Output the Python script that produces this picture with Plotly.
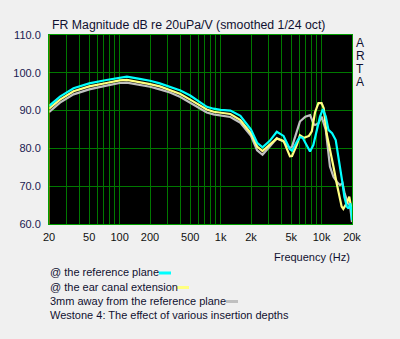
import plotly.graph_objects as go

# ---------------- data ----------------
ref_freq = [20, 25.7, 35, 50, 74, 100, 118, 158, 200, 250, 315, 400, 500, 600, 730, 850, 1000, 1250,
            1570, 2000, 2300, 2600, 3070, 3600, 4200, 4860, 5100, 5700, 6100, 6500, 7200, 7680, 8280,
            8940, 9640, 10300, 11000, 11700, 12700, 13800, 14900, 16100, 16800, 17800, 18500, 19200,
            19800, 20000]
ref_db = [91.2, 93.7, 95.9, 97.2, 98.1, 98.8, 99.0, 98.4, 97.9, 97.2, 96.3, 95.3, 94.0, 92.6, 91.0, 90.5,
          90.2, 90.0, 88.6, 85.0, 81.5, 80.3, 82.0, 84.4, 83.3, 79.8, 79.4, 81.8, 83.0, 82.8, 80.8, 79.2,
          80.9, 84.9, 88.4, 90.4, 88.4, 84.9, 84.0, 82.2, 76.9, 70.8, 67.2, 64.6, 64.1, 65.5, 63.3, 61.0]

ear_freq = [20, 25.7, 35, 50, 74, 100, 118, 158, 200, 250, 315, 400, 500, 600, 730, 850, 1000, 1250,
            1570, 2000, 2300, 2600, 3070, 3600, 4200, 4860, 5100, 5700, 6100, 6700, 7500, 8000, 8600,
            9300, 10000, 10500, 11200, 12100, 13100, 14100, 15200, 15800, 16400, 17700, 18800, 19500,
            20000]
ear_db = [90.5, 92.9, 95.1, 96.4, 97.3, 98.0, 98.1, 97.6, 97.0, 96.4, 95.4, 94.4, 92.9, 91.7, 90.3, 89.7,
          89.4, 89.1, 87.5, 84.0, 80.5, 79.3, 81.0, 82.6, 82.0, 77.9, 78.0, 81.0, 83.5, 82.8, 83.3, 84.5,
          89.5, 92.0, 92.0, 90.6, 84.0, 79.2, 75.2, 70.8, 66.3, 64.6, 64.0, 65.5, 67.2, 65.0, 63.0]

mm3_freq = [20, 25.7, 35, 50, 74, 100, 118, 158, 200, 250, 315, 400, 500, 600, 730, 850, 1000, 1250,
            1570, 2000, 2300, 2600, 3070, 3600, 4200, 4860, 5100, 5500, 6100, 6900, 7700, 8300, 8600,
            9300, 10000, 11000, 11500, 12100, 13100, 14100, 15200, 16100, 16900, 18200, 19100, 19700,
            20000]
mm3_db = [89.6, 92.1, 94.3, 95.6, 96.6, 97.3, 97.4, 96.9, 96.3, 95.6, 94.8, 93.6, 92.1, 90.9, 89.5, 89.0,
          88.7, 88.3, 86.8, 83.3, 79.5, 78.3, 80.5, 82.7, 81.8, 80.0, 80.5, 83.5, 87.1, 88.4, 88.8, 86.6,
          86.2, 86.6, 88.4, 84.9, 80.5, 75.2, 72.5, 71.2, 70.3, 70.8, 68.1, 65.5, 65.0, 61.9, 60.5]

x_tickvals = [20, 50, 100, 200, 500, 1000, 2000, 5000, 10000, 20000]
x_ticktext = ["20", "50", "100", "200", "500", "1k", "2k", "5k", "10k", "20k"]
x_minor = [30, 40, 60, 70, 80, 90, 300, 400, 600, 700, 800, 900, 3000, 4000, 6000, 7000, 8000, 9000]
y_tickvals = [60, 70, 80, 90, 100, 110]
y_ticktext = ["60.0", "70.0", "80.0", "90.0", "100.0", "110.0"]

series_names = ["@ the reference plane", "@ the ear canal extension", "3mm away from the reference plane"]
series_colors = ["#00ffff", "#ffff80", "#c0c0c0"]
note = "Westone 4: The effect of various insertion depths"

# ---------------- layout helpers (pixel positions) ----------------
W, H = 400, 339
L, R, T, B = 49, 352, 35, 224
def px(x):
    return (x - L) / (R - L)
def py(y):
    return (B - y) / (B - T)

FONT = "Arial, Liberation Sans, sans-serif"
TXT = "#101030"

fig = go.Figure()
order = [2, 1, 0]
all_f = [ref_freq, ear_freq, mm3_freq]
all_d = [ref_db, ear_db, mm3_db]
for i in order:
    fig.add_trace(go.Scatter(x=all_f[i], y=all_d[i], mode="lines", name=series_names[i],
                             line=dict(color=series_colors[i], width=2.2), showlegend=False))

fig.update_layout(
    width=W, height=H,
    margin=dict(l=L, r=W - R, t=T, b=H - B),
    paper_bgcolor="#f0f0f0", plot_bgcolor="#000000",
    font=dict(family=FONT, size=11, color=TXT),
    xaxis=dict(type="log", range=[1.30103, 4.30103], tickvals=x_tickvals, ticktext=x_ticktext,
               showgrid=True, gridcolor="#007800", gridwidth=1,
               minor=dict(tickvals=x_minor, showgrid=True, gridcolor="#007800", gridwidth=1),
               showline=True, linecolor="#00a000", linewidth=1, mirror=True,
               ticks="", ticklabelstandoff=3, tickfont=dict(size=11, color="#111111"), zeroline=False),
    yaxis=dict(range=[60, 110], tickvals=y_tickvals, ticktext=y_ticktext,
               showgrid=True, gridcolor="#007800", gridwidth=1,
               showline=True, linecolor="#00a000", linewidth=1, mirror=True,
               ticks="", ticklabelstandoff=5, tickfont=dict(size=11, color="#1a1a50"), zeroline=False),
)

# yellow marker line on the left edge
fig.add_shape(type="line", xref="x", yref="y", x0=20, x1=20, y0=60, y1=110,
              line=dict(color="#c8c800", width=1))

ann = []
ann.append(dict(text="FR Magnitude dB re 20uPa/V (smoothed 1/24 oct)", x=px(50), y=py(25),
                xanchor="left", yanchor="middle", font=dict(size=12.3, color=TXT)))
for k, ch in enumerate("ARTA"):
    ann.append(dict(text=ch, x=px(360), y=py(43 + 13 * k), xanchor="center", yanchor="middle",
                    font=dict(size=12, color=TXT)))
ann.append(dict(text="Frequency (Hz)", x=px(352), y=py(257), xanchor="right", yanchor="middle",
                font=dict(size=11, color=TXT)))
legend_y = [272, 286.5, 300.5]
seg_x = [(159, 171), (177, 189), (226, 238)]
for i in range(3):
    ann.append(dict(text=series_names[i], x=px(48), y=py(legend_y[i]), xanchor="left", yanchor="middle",
                    font=dict(size=11, color=TXT)))
    fig.add_shape(type="line", xref="paper", yref="paper", x0=px(seg_x[i][0]), x1=px(seg_x[i][1]),
                  y0=py(legend_y[i] + 1), y1=py(legend_y[i] + 1), line=dict(color=series_colors[i], width=3))
ann.append(dict(text=note, x=px(48), y=py(314.5), xanchor="left", yanchor="middle",
                font=dict(size=11, color=TXT)))
for a in ann:
    a.update(xref="paper", yref="paper", showarrow=False)
fig.update_layout(annotations=ann)

fig.write_html("out.html")
